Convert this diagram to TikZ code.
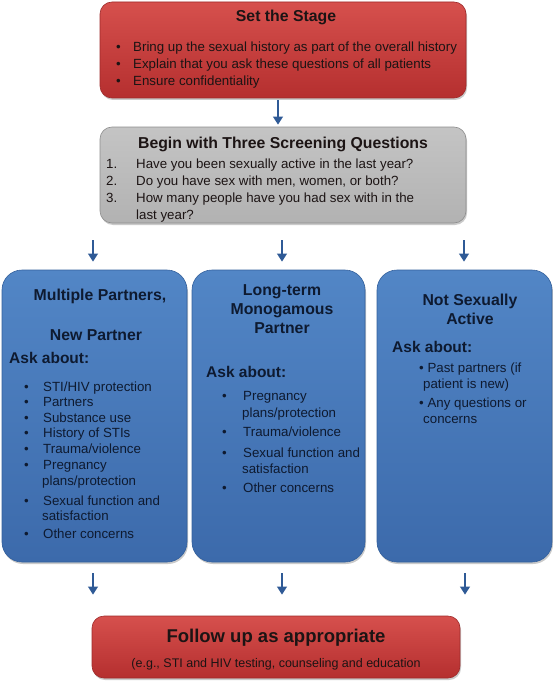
\documentclass[tikz,border=0pt]{standalone}
\usepackage{fontspec}
\setmainfont{Liberation Sans}
\usetikzlibrary{arrows.meta,shadows}
\definecolor{redtop}{HTML}{D6504D}
\definecolor{redbot}{HTML}{B52F2F}
\definecolor{redline}{HTML}{9E2A2A}
\definecolor{graytop}{HTML}{C4C4C4}
\definecolor{graybot}{HTML}{B2B2B2}
\definecolor{grayline}{HTML}{8E8E8E}
\definecolor{bluetop}{HTML}{5286C6}
\definecolor{bluebot}{HTML}{3C6AAB}
\definecolor{blueline}{HTML}{33609C}
\definecolor{arrowblue}{HTML}{2F5A96}
\definecolor{navy}{HTML}{0E1A30}
\definecolor{ink}{HTML}{1C1414}
\begin{document}
\begin{tikzpicture}[x=1pt,y=-1pt,
  boxbase/.style={rectangle, inner sep=0pt,
    drop shadow={shadow xshift=1pt, shadow yshift=-2pt, opacity=0.35, fill=black!60}},
  redbox/.style={boxbase, rounded corners=12pt, top color=redtop, bottom color=redbot, draw=redline, line width=0.6pt},
  graybox/.style={boxbase, rounded corners=12pt, top color=graytop, bottom color=graybot, draw=grayline, line width=0.6pt},
  bluebox/.style={boxbase, rounded corners=20pt, top color=bluetop, bottom color=bluebot, draw=blueline, line width=0.6pt},
  arr/.style={draw=arrowblue, line width=2.6pt, -{Triangle[width=9.5pt,length=8pt]}},
  ln/.style={anchor=base west, inner sep=0pt, font=\fontsize{13.3}{15}\selectfont},
  lnr/.style={ln, text=ink},
  lnb/.style={ln, text=navy},
  ttl/.style={anchor=base, inner sep=0pt, font=\fontsize{15.8}{18}\selectfont\bfseries},
  ask/.style={anchor=base west, inner sep=0pt, text=navy, font=\fontsize{15.5}{18}\selectfont\bfseries}
]
\useasboundingbox (0,0) rectangle (553,682);

% boxes
\node[redbox, minimum width=366pt, minimum height=96pt] (stage) at (283,50) {};
\node[graybox, minimum width=366pt, minimum height=96pt] (screen) at (283,175) {};
\node[bluebox, minimum width=185pt, minimum height=292pt] (left) at (94.5,416) {};
\node[bluebox, minimum width=173pt, minimum height=292pt] (mid) at (278.5,416) {};
\node[bluebox, minimum width=175pt, minimum height=292pt] (right) at (464.5,416) {};
\node[redbox, minimum width=368pt, minimum height=62pt] (follow) at (276,647) {};

% arrows
\draw[arr, shorten <=2pt, shorten >=2pt] (stage.south -| 278,0) -- (screen.north -| 278,0);
\draw[arr, shorten <=17pt, shorten >=8pt] (screen.south -| 93,0) -- (left.north -| 93,0);
\draw[arr, shorten <=17pt, shorten >=8pt] (screen.south -| 282,0) -- (mid.north -| 282,0);
\draw[arr, shorten <=17pt, shorten >=8pt] (screen.south -| 464,0) -- (right.north -| 464,0);
\draw[arr, shorten <=11pt, shorten >=21pt] (left.south -| 93,0) -- (follow.north -| 93,0);
\draw[arr, shorten <=11pt, shorten >=21pt] (mid.south -| 282,0) -- (follow.north -| 282,0);
\draw[arr, shorten <=11pt, shorten >=21pt] (right.south -| 465,0) -- (follow.north -| 465,0);

% Set the Stage
\node[ttl, text=ink] (stageT) at (286,22) {Set the Stage};
\node[lnr] (sb1) at (116,52) {•};
\node[lnr] (s1) at (133,52) {Bring up the sexual history as part of the overall history};
\node[lnr] (sb2) at (116,69) {•};
\node[lnr] (s2) at (133,69) {Explain that you ask these questions of all patients};
\node[lnr] (sb3) at (116,86) {•};
\node[lnr] (s3) at (133,86) {Ensure confidentiality};

% Screening questions
\node[ttl, text=ink] (screenT) at (283,148) {Begin with Three Screening Questions};
\node[lnr] (q1n) at (106,168) {1.};
\node[lnr] (q1) at (136,168) {Have you been sexually active in the last year?};
\node[lnr] (q2n) at (106,185) {2.};
\node[lnr] (q2) at (136,185) {Do you have sex with men, women, or both?};
\node[lnr] (q3n) at (106,202) {3.};
\node[lnr] (q3) at (136,202) {How many people have you had sex with in the};
\node[lnr] (q3b) at (136,219) {last year?};

% Left box
\node[ttl, text=navy] (lT1) at (100,300) {Multiple Partners,};
\node[ttl, text=navy] (lT2) at (96,340) {New Partner};
\node[ask] (lA) at (9,363) {Ask about:};
\foreach \y/\t [count=\i] in {391/{STI/HIV protection}, 406/{Partners}, 422/{Substance use}, 437/{History of STIs}, 453/{Trauma/violence}}
  {\node[lnb] (lb\i) at (24,\y) {•}; \node[lnb] (l\i) at (43,\y) {\t};}
\node[lnb] (lb6) at (24,469) {•};
\node[lnb] (l6) at (43,469) {Pregnancy};
\node[lnb] (l6b) at (42,485) {plans/protection};
\node[lnb] (lb7) at (24,505) {•};
\node[lnb] (l7) at (43,505) {Sexual function and};
\node[lnb] (l7b) at (42,520) {satisfaction};
\node[lnb] (lb8) at (24,538) {•};
\node[lnb] (l8) at (43,538) {Other concerns};

% Middle box
\node[ttl, text=navy] (mT1) at (282,295) {Long-term};
\node[ttl, text=navy] (mT2) at (282,314) {Monogamous};
\node[ttl, text=navy] (mT3) at (282,333) {Partner};
\node[ask] (mA) at (206,377) {Ask about:};
\node[lnb] (mb1) at (222,400) {•};
\node[lnb] (m1) at (243,400) {Pregnancy};
\node[lnb] (m1b) at (242,417) {plans/protection};
\node[lnb] (mb2) at (222,436) {•};
\node[lnb] (m2) at (243,436) {Trauma/violence};
\node[lnb] (mb3) at (222,457) {•};
\node[lnb] (m3) at (243,457) {Sexual function and};
\node[lnb] (m3b) at (242,473) {satisfaction};
\node[lnb] (mb4) at (222,492) {•};
\node[lnb] (m4) at (243,492) {Other concerns};

% Right box
\node[ttl, text=navy] (rT1) at (470,305) {Not Sexually};
\node[ttl, text=navy] (rT2) at (470,324) {Active};
\node[ask] (rA) at (392,352) {Ask about:};
\node[lnb] (r1) at (419,372) {• Past partners (if};
\node[lnb] (r1b) at (423,388) {patient is new)};
\node[lnb] (r2) at (419,407) {• Any questions or};
\node[lnb] (r2b) at (423,423) {concerns};

% Follow up
\node[anchor=base, inner sep=0pt, text=ink, font=\fontsize{18.5}{21}\selectfont\bfseries] (fT) at (276,642) {Follow up as appropriate};
\node[anchor=base, inner sep=0pt, text=ink, font=\fontsize{12.5}{14}\selectfont] (fS) at (276,667) {(e.g., STI and HIV testing, counseling and education};
\end{tikzpicture}
\end{document}
